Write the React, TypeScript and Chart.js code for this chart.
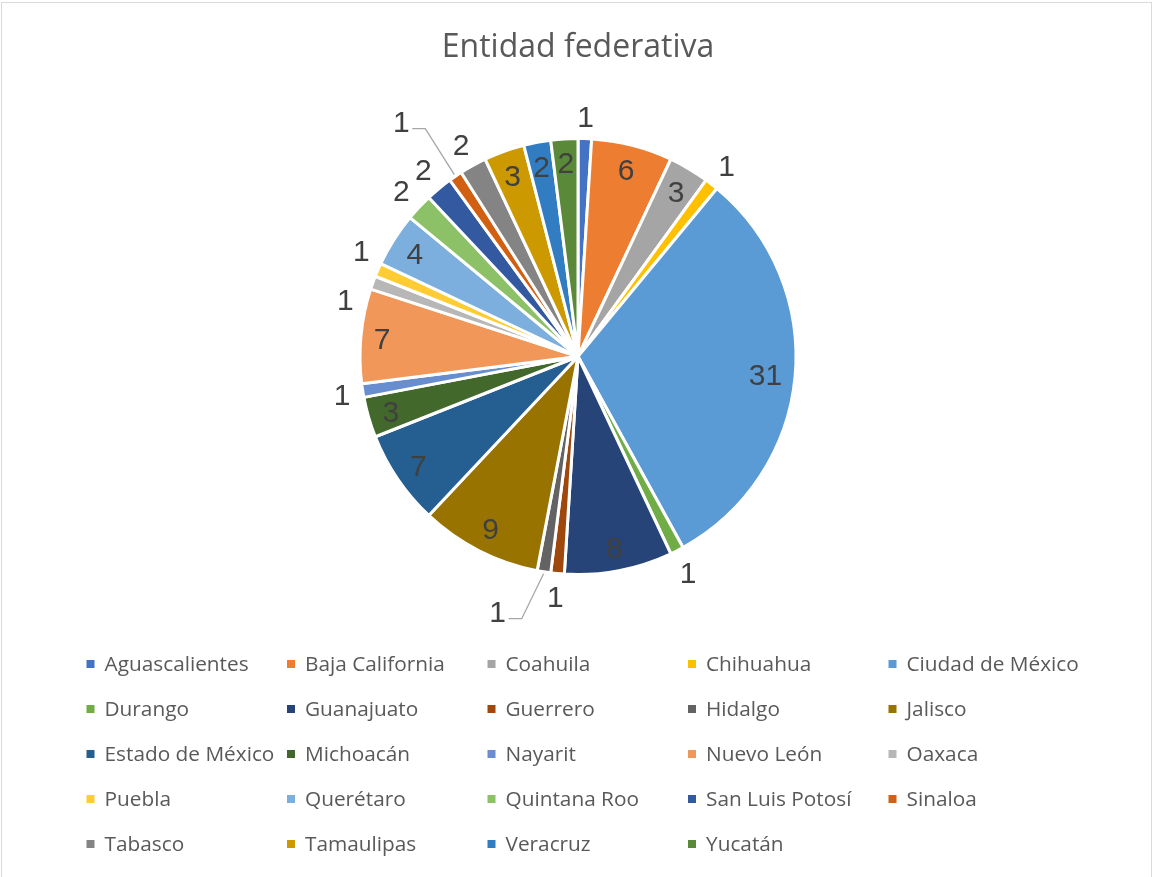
import React, { useEffect, useRef } from "react";
import { Chart, registerables } from "chart.js";

Chart.register(...registerables);

const titleText = "Entidad federativa";

const categories = [
  "Aguascalientes", "Baja California", "Coahuila", "Chihuahua", "Ciudad de México",
  "Durango", "Guanajuato", "Guerrero", "Hidalgo", "Jalisco",
  "Estado de México", "Michoacán", "Nayarit", "Nuevo León", "Oaxaca",
  "Puebla", "Querétaro", "Quintana Roo", "San Luis Potosí", "Sinaloa",
  "Tabasco", "Tamaulipas", "Veracruz", "Yucatán",
];

const values = [1, 6, 3, 1, 31, 1, 8, 1, 1, 9, 7, 3, 1, 7, 1, 1, 4, 2, 2, 1, 2, 3, 2, 2];

const colors = [
  "#4472C4", "#ED7D31", "#A5A5A5", "#FFC000", "#5B9BD5", "#70AD47",
  "#264478", "#9E480E", "#636363", "#997300", "#255E91", "#43682B",
  "#698ED0", "#F1975A", "#B7B7B7", "#FFCD33", "#7CAFDD", "#8CC168",
  "#335AA1", "#D26012", "#848484", "#CC9A00", "#327DC2", "#5A8A39",
];

// label placement style (Excel "best fit")
const insideLabels = [1, 2, 4, 6, 9, 10, 11, 13, 16, 21, 22, 23];
const labelShiftDeg: Record<number, number> = { 14: -6, 15: 2.7 };
const leaderLabels: Record<number, { angleDeg: number; dist: number }> = {
  8: { angleDeg: 197.5, dist: 1.225 },
  19: { angleDeg: 323.1, dist: 1.35 },
};

const LABEL_FONT_SIZE = 30;
const LABEL_FONT = `${LABEL_FONT_SIZE}px "Liberation Sans", Arial, sans-serif`;
const LEGEND_FONT_SIZE = 20.8;
const LEGEND_FONT = `${LEGEND_FONT_SIZE}px "Open Sans", sans-serif`;
const TITLE_FONT = `32px "Open Sans", sans-serif`;

const legendCols = 5;

const dataLabelPlugin = {
  id: "dataLabels",
  afterDatasetsDraw(chart: any) {
    const meta = chart.getDatasetMeta(0);
    const ctx = chart.ctx as CanvasRenderingContext2D;
    ctx.save();
    ctx.font = LABEL_FONT;
    ctx.fillStyle = "#404040";
    ctx.textAlign = "center";
    ctx.textBaseline = "alphabetic";
    const digitH = 0.716 * LABEL_FONT_SIZE;
    meta.data.forEach((arc: any, i: number) => {
      const { x, y, startAngle, endAngle, outerRadius } = arc.getProps(
        ["x", "y", "startAngle", "endAngle", "outerRadius"],
        true
      );
      const R = outerRadius;
      const text = String(values[i]);
      const hw = ctx.measureText(text).width / 2;
      const hh = digitH / 2;
      let a = (startAngle + endAngle) / 2;
      let lx: number, ly: number;
      if (leaderLabels[i]) {
        const la = ((leaderLabels[i].angleDeg - 90) * Math.PI) / 180;
        lx = x + R * leaderLabels[i].dist * Math.cos(la);
        ly = y + R * leaderLabels[i].dist * Math.sin(la);
        const sx = x + (R + 2) * Math.cos(a);
        const sy = y + (R + 2) * Math.sin(a);
        const ex = lx + 11;
        const ey = ly + 7.5;
        ctx.save();
        ctx.strokeStyle = "#A6A6A6";
        ctx.lineWidth = 1.3;
        ctx.beginPath();
        ctx.moveTo(sx, sy);
        ctx.lineTo(ex + 13, ey);
        ctx.lineTo(ex, ey);
        ctx.stroke();
        ctx.restore();
      } else {
        if (labelShiftDeg[i]) a += (labelShiftDeg[i] * Math.PI) / 180;
        const c = Math.cos(a);
        const s = Math.sin(a);
        const ext = Math.abs(c) * hw + Math.abs(s) * hh;
        const r = insideLabels.includes(i) ? R - 12 - ext : R + 11 + ext;
        lx = x + r * c;
        ly = y + r * s;
      }
      ctx.fillText(text, lx, ly + hh);
    });
    ctx.restore();
  },
};

const decorPlugin = {
  id: "decor",
  beforeDraw(chart: any) {
    const ctx = chart.ctx as CanvasRenderingContext2D;
    ctx.save();
    ctx.fillStyle = "#FFFFFF";
    ctx.fillRect(0, 0, chart.width, chart.height);
    ctx.strokeStyle = "#D9D9D9";
    ctx.lineWidth = 1;
    ctx.strokeRect(1.5, 2.5, 1150, 900);
    ctx.restore();
  },
  afterDraw(chart: any) {
    const ctx = chart.ctx as CanvasRenderingContext2D;
    ctx.save();
    // title
    ctx.font = TITLE_FONT;
    ctx.fillStyle = "#595959";
    ctx.textAlign = "center";
    ctx.textBaseline = "alphabetic";
    ctx.fillText(titleText, 578, 57);
    // legend
    ctx.font = LEGEND_FONT;
    ctx.textAlign = "left";
    const capH = 0.714 * LEGEND_FONT_SIZE;
    categories.forEach((name, i) => {
      const col = i % legendCols;
      const row = Math.floor(i / legendCols);
      const tx = 104.5 + col * 200.5;
      const cy = 664 + row * 45;
      ctx.fillStyle = colors[i];
      ctx.fillRect(tx - 18, cy - 4, 8, 8);
      ctx.fillStyle = "#595959";
      ctx.fillText(name, tx, cy + capH / 2);
    });
    ctx.restore();
  },
};

export default function App() {
  const canvasRef = useRef<HTMLCanvasElement | null>(null);

  useEffect(() => {
    if (!canvasRef.current) return;
    const chart = new Chart(canvasRef.current, {
      type: "pie",
      data: {
        labels: categories,
        datasets: [
          {
            data: values,
            backgroundColor: colors,
            borderColor: "#FFFFFF",
            borderWidth: 3,
          },
        ],
      },
      options: {
        responsive: false,
        animation: false,
        radius: 218,
        layout: {
          padding: { left: 360, right: 357, top: 139, bottom: 303 },
        },
        plugins: {
          legend: { display: false },
          title: { display: false },
          tooltip: { enabled: false },
        },
      } as any,
      plugins: [decorPlugin, dataLabelPlugin],
    });
    return () => chart.destroy();
  }, []);

  return (
    <div style={{ position: "absolute", left: 0, top: 0, width: 1153, height: 877 }}>
      <canvas ref={canvasRef} width={1153} height={877} style={{ width: 1153, height: 877 }} />
    </div>
  );
}
